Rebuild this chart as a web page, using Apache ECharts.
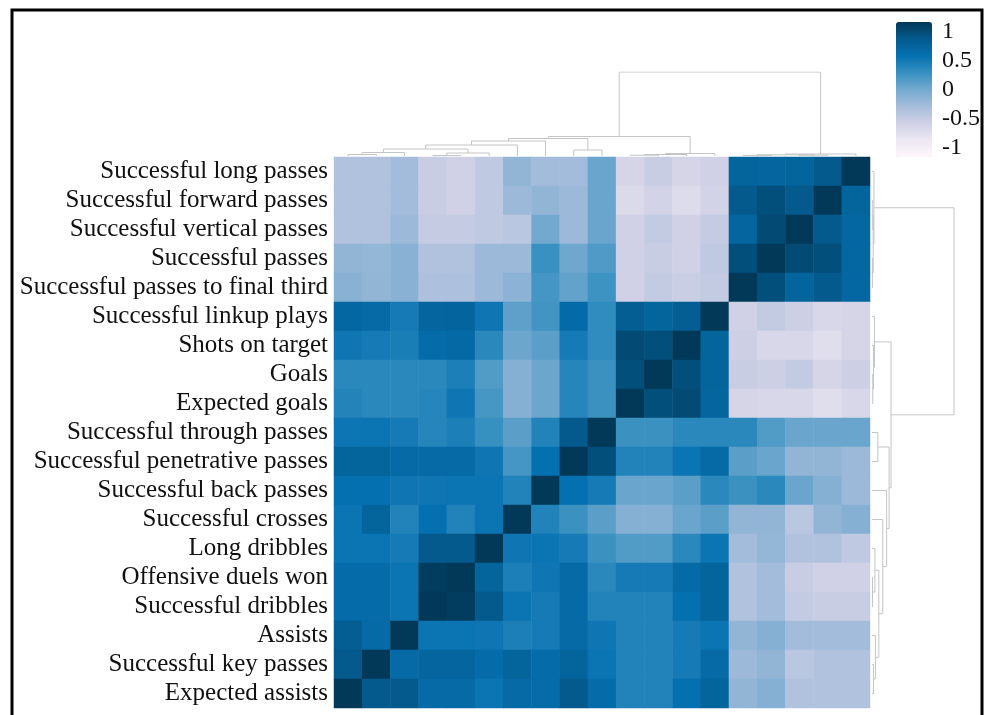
<!DOCTYPE html>
<html>
<head>
<meta charset="utf-8">
<script src="https://cdn.jsdelivr.net/npm/echarts@6/dist/echarts.min.js"></script>
<style>
  html, body { margin: 0; padding: 0; background: #fff; }
  #main { width: 984px; height: 715px; }
</style>
</head>
<body>
<div id="main"></div>
<script>
// row order (top to bottom); columns are the same variables in reverse order
var rowLabels = [
  'Successful long passes',
  'Successful forward passes',
  'Successful vertical passes',
  'Successful passes',
  'Successful passes to final third',
  'Successful linkup plays',
  'Shots on target',
  'Goals',
  'Expected goals',
  'Successful through passes',
  'Successful penetrative passes',
  'Successful back passes',
  'Successful crosses',
  'Long dribbles',
  'Offensive duels won',
  'Successful dribbles',
  'Assists',
  'Successful key passes',
  'Expected assists'
];

// correlation values, one array per row, left column to right column
var corr = [
  [-0.31, -0.31, -0.24, -0.45, -0.5, -0.4, -0.15, -0.24, -0.24, 0.04, -0.55, -0.45, -0.55, -0.5, 0.64, 0.62, 0.64, 0.75, 1],
  [-0.31, -0.31, -0.24, -0.45, -0.5, -0.4, -0.2, -0.15, -0.2, 0.04, -0.6, -0.52, -0.62, -0.52, 0.75, 0.83, 0.75, 1, 0.64],
  [-0.31, -0.31, -0.2, -0.43, -0.43, -0.4, -0.37, 0.0, -0.2, 0.04, -0.5, -0.42, -0.5, -0.43, 0.62, 0.87, 1, 0.75, 0.6],
  [-0.15, -0.16, -0.1, -0.31, -0.31, -0.2, -0.2, 0.24, 0.02, 0.15, -0.5, -0.45, -0.5, -0.4, 0.83, 1, 0.87, 0.83, 0.6],
  [-0.1, -0.15, -0.1, -0.29, -0.29, -0.2, -0.12, 0.19, 0.07, 0.22, -0.5, -0.42, -0.46, -0.42, 1, 0.83, 0.64, 0.75, 0.6],
  [0.6, 0.57, 0.42, 0.62, 0.63, 0.45, 0.09, 0.2, 0.56, 0.28, 0.7, 0.64, 0.7, 1, -0.5, -0.42, -0.48, -0.57, -0.55],
  [0.45, 0.42, 0.4, 0.55, 0.58, 0.31, 0.03, 0.1, 0.42, 0.28, 0.87, 0.83, 1, 0.64, -0.48, -0.57, -0.57, -0.64, -0.55],
  [0.31, 0.31, 0.31, 0.31, 0.38, 0.14, -0.09, 0.03, 0.33, 0.23, 0.83, 1, 0.83, 0.64, -0.45, -0.48, -0.42, -0.55, -0.48],
  [0.34, 0.31, 0.31, 0.33, 0.45, 0.18, -0.09, 0.03, 0.33, 0.23, 1, 0.83, 0.87, 0.62, -0.55, -0.57, -0.57, -0.64, -0.57],
  [0.46, 0.47, 0.42, 0.33, 0.38, 0.25, 0.1, 0.35, 0.75, 1, 0.23, 0.23, 0.31, 0.31, 0.31, 0.14, 0.04, 0.04, 0.04],
  [0.64, 0.64, 0.57, 0.57, 0.57, 0.45, 0.19, 0.5, 1, 0.83, 0.35, 0.35, 0.47, 0.57, 0.1, 0.04, -0.15, -0.15, -0.2],
  [0.5, 0.5, 0.45, 0.45, 0.47, 0.47, 0.35, 1, 0.5, 0.42, 0.04, 0.04, 0.1, 0.31, 0.23, 0.31, 0.04, -0.09, -0.2],
  [0.47, 0.64, 0.35, 0.5, 0.35, 0.47, 1, 0.35, 0.23, 0.1, -0.09, -0.09, 0.04, 0.1, -0.15, -0.15, -0.37, -0.15, -0.09],
  [0.47, 0.47, 0.42, 0.75, 0.75, 1, 0.45, 0.47, 0.42, 0.23, 0.14, 0.14, 0.31, 0.47, -0.24, -0.16, -0.31, -0.31, -0.4],
  [0.55, 0.55, 0.47, 0.97, 1, 0.64, 0.38, 0.45, 0.57, 0.31, 0.42, 0.42, 0.57, 0.64, -0.31, -0.24, -0.45, -0.5, -0.5],
  [0.55, 0.55, 0.47, 1, 0.97, 0.75, 0.47, 0.42, 0.57, 0.35, 0.35, 0.35, 0.5, 0.64, -0.31, -0.24, -0.42, -0.45, -0.45],
  [0.7, 0.57, 1, 0.47, 0.47, 0.45, 0.38, 0.42, 0.57, 0.45, 0.35, 0.35, 0.42, 0.47, -0.15, -0.09, -0.24, -0.24, -0.24],
  [0.75, 1, 0.57, 0.62, 0.62, 0.55, 0.64, 0.55, 0.64, 0.47, 0.35, 0.35, 0.42, 0.57, -0.2, -0.15, -0.37, -0.31, -0.31],
  [1, 0.75, 0.75, 0.57, 0.57, 0.47, 0.57, 0.55, 0.75, 0.55, 0.35, 0.35, 0.5, 0.64, -0.15, -0.09, -0.31, -0.31, -0.31]
];

// hclust style merges: negative = leaf (1-based row), positive = earlier merge
var merges = [
  [-2, -3, 0.8],
  [-4, -5, 0.6],
  [1, 2, 1.2],
  [-1, 3, 2.0],
  [-8, -9, 0.8],
  [-7, 5, 1.5],
  [-6, 6, 2.5],
  [-10, -11, 6],
  [-18, -19, 1.5],
  [-17, 9, 3.5],
  [-15, -16, 0.5],
  [-14, 11, 3],
  [10, 12, 7],
  [-13, 13, 11],
  [-12, 14, 15],
  [8, 15, 17.5],
  [7, 16, 19.5],
  [4, 17, 84]
];

var legendTicks = [-1, -0.5, 0, 0.5, 1];
var pubu = ['#fff7fb', '#ece7f2', '#d0d1e6', '#a6bddb', '#74a9cf', '#3690c0', '#0570b0', '#045a8d', '#023858'];

var n = rowLabels.length;
var heatData = [];
for (var i = 0; i < n; i++) {
  for (var j = 0; j < n; j++) {
    heatData.push([j, i, corr[i][j]]);
  }
}

// walk the merges to get segment polylines (pos = row index, h = height)
var nodePos = [], nodeH = [];
function childInfo(c) {
  if (c < 0) return [-c - 1, 0];
  return [nodePos[c - 1], nodeH[c - 1]];
}
var topLines = [], rightLines = [];
merges.forEach(function (m) {
  var a = childInfo(m[0]), b = childInfo(m[1]), h = m[2];
  nodePos.push((a[0] + b[0]) / 2);
  nodeH.push(h);
  topLines.push({ coords: [[n - 1 - a[0], a[1]], [n - 1 - a[0], h], [n - 1 - b[0], h], [n - 1 - b[0], b[1]]] });
  rightLines.push({ coords: [[a[1], a[0]], [h, a[0]], [h, b[0]], [b[1], b[0]]] });
});

var chart = echarts.init(document.getElementById('main'));
var serif = 'Liberation Serif';
var hidden = { show: false };

var option = {
  backgroundColor: '#fff',
  animation: false,
  grid: [
    { left: 334, top: 157, width: 536, height: 551 },
    { left: 334, top: 72, width: 536, height: 84 },
    { left: 872, top: 157, width: 82, height: 551 },
    { left: 896, top: 32, width: 36, height: 116 }
  ],
  xAxis: [
    { type: 'category', gridIndex: 0, data: rowLabels.slice().reverse(), show: false },
    { type: 'value', gridIndex: 1, min: -0.5, max: n - 0.5, show: false },
    { type: 'value', gridIndex: 2, min: 0, max: 84, show: false },
    { type: 'value', gridIndex: 3, min: 0, max: 1, show: false }
  ],
  yAxis: [
    {
      type: 'category', gridIndex: 0, data: rowLabels, inverse: true,
      axisLine: hidden, axisTick: hidden, splitLine: hidden,
      axisLabel: { interval: 0, fontFamily: serif, fontSize: 25, color: '#111', margin: 6 }
    },
    { type: 'value', gridIndex: 1, min: 0, max: 84, show: false },
    { type: 'value', gridIndex: 2, min: -0.5, max: n - 0.5, inverse: true, show: false },
    {
      type: 'value', gridIndex: 3, min: legendTicks[0], max: legendTicks[legendTicks.length - 1],
      interval: 0.5, position: 'right',
      axisLine: hidden, axisTick: hidden, splitLine: hidden,
      axisLabel: { fontFamily: serif, fontSize: 24, color: '#111', margin: 10 }
    }
  ],
  visualMap: {
    type: 'continuous', min: -1, max: 1, seriesIndex: 0,
    calculable: false, text: ['', ''], showLabel: false,
    left: 896, top: 22, itemWidth: 36, itemHeight: 135, padding: 0,
    inRange: { color: pubu }
  },
  graphic: [
    {
      type: 'rect', silent: true,
      shape: { x: 12, y: 10, width: 970, height: 720 },
      style: { fill: 'none', stroke: '#000', lineWidth: 3 }
    }
  ],
  series: [
    {
      type: 'heatmap', xAxisIndex: 0, yAxisIndex: 0, data: heatData,
      itemStyle: { borderWidth: 0 }, emphasis: { disabled: true }
    },
    {
      type: 'lines', coordinateSystem: 'cartesian2d', xAxisIndex: 1, yAxisIndex: 1,
      polyline: true, data: topLines, silent: true,
      lineStyle: { color: '#c4c4c4', width: 1, opacity: 1 }
    },
    {
      type: 'lines', coordinateSystem: 'cartesian2d', xAxisIndex: 2, yAxisIndex: 2,
      polyline: true, data: rightLines, silent: true,
      lineStyle: { color: '#c4c4c4', width: 1, opacity: 1 }
    }
  ]
};

chart.setOption(option);
</script>
</body>
</html>
